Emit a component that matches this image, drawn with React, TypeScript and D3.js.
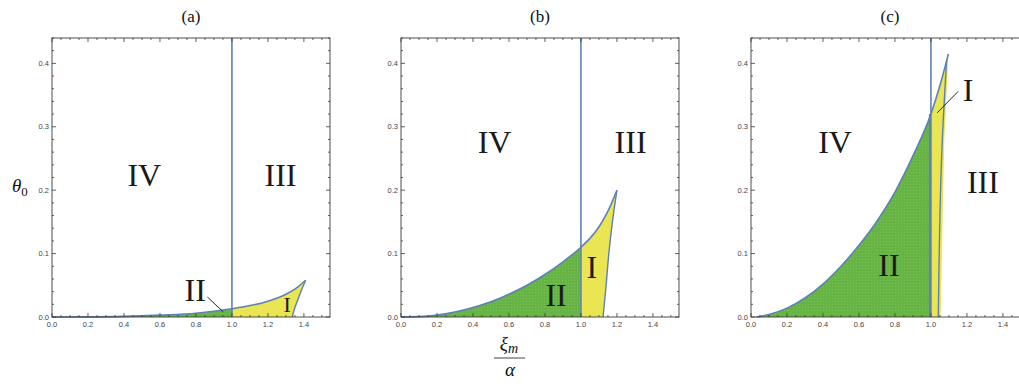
import React from "react";
import * as d3 from "d3";

// ---------- data ----------
const panelTitles = ["(a)", "(b)", "(c)"];
const xTickValues = [0, 0.2, 0.4, 0.6, 0.8, 1.0, 1.2, 1.4];
const yTickValues = [0, 0.1, 0.2, 0.3, 0.4];

// upper boundary curve (xi_m/alpha, theta_0)
const curveA_xi = [0, 0.2, 0.4, 0.6, 0.8, 0.9, 1.0, 1.1, 1.2, 1.3, 1.35, 1.41];
const curveA_th = [0, 0.0002, 0.001, 0.003, 0.006, 0.009, 0.013, 0.018, 0.025, 0.036, 0.044, 0.058];
const curveB_xi = [0, 0.1, 0.2, 0.3, 0.4, 0.5, 0.6, 0.7, 0.8, 0.9, 1.0, 1.05, 1.1, 1.15, 1.2];
const curveB_th = [0, 0.0006, 0.003, 0.008, 0.015, 0.024, 0.036, 0.05, 0.067, 0.087, 0.11, 0.124, 0.142, 0.167, 0.2];
const curveC_xi = [0.03, 0.1, 0.2, 0.3, 0.4, 0.5, 0.6, 0.7, 0.8, 0.9, 1.0, 1.05, 1.097];
const curveC_th = [0, 0.004, 0.014, 0.03, 0.052, 0.08, 0.113, 0.151, 0.197, 0.254, 0.32, 0.365, 0.415];

// right boundary of region I
const edgeA_xi = [1.335, 1.35, 1.37, 1.39, 1.41];
const edgeA_th = [0, 0.015, 0.03, 0.045, 0.058];
const edgeB_xi = [1.123, 1.14, 1.155, 1.175, 1.2];
const edgeB_th = [0, 0.05, 0.1, 0.15, 0.2];
const edgeC_xi = [1.041, 1.063, 1.087];
const edgeC_th = [0, 0.278, 0.404];
// outer limit of the yellow fill (panel c only)
const fillC_xi = [1.054, 1.074, 1.097];
const fillC_th = [0, 0.278, 0.415];

// region labels
const labelsA = [
  { text: "IV", xi: 0.513, th: 0.206, big: true },
  { text: "III", xi: 1.27, th: 0.206, big: true },
  { text: "II", xi: 0.796, th: 0.026, big: true },
  { text: "I", xi: 1.307, th: 0.0074, big: false },
];
const labelsB = [
  { text: "IV", xi: 0.52, th: 0.258, big: true },
  { text: "III", xi: 1.276, th: 0.258, big: true },
  { text: "II", xi: 0.862, th: 0.017, big: true },
  { text: "I", xi: 1.06, th: 0.061, big: true },
];
const labelsC = [
  { text: "IV", xi: 0.467, th: 0.259, big: true },
  { text: "III", xi: 1.289, th: 0.195, big: true },
  { text: "II", xi: 0.767, th: 0.064, big: true },
  { text: "I", xi: 1.206, th: 0.341, big: true },
];
// leader lines [xi1, th1, xi2, th2]
const leaderA = [0.864, 0.0315, 0.952, 0.008];
const leaderC = [1.152, 0.356, 1.035, 0.322];

// ---------- layout / style ----------
const W = 1019;
const H = 386;
const PANEL_LEFT = [52, 401, 751];
const PANEL_W = 278;
const TOP = 38;
const BOTTOM = 317;
const X_MAX = 1.545;
const Y_MAX = 0.44;
const BLUE = "#5e81b5";
const YELLOW = "#eae552";
const FRAME = "#3a3a3a";
const SERIF = "'Liberation Serif', 'Times New Roman', serif";
const SANS = "'Liberation Sans', Arial, sans-serif";

const zip = (xs: number[], ys: number[]) => xs.map((x, i) => [x, ys[i]] as [number, number]);

const panels = [
  { curve: zip(curveA_xi, curveA_th), edge: zip(edgeA_xi, edgeA_th), fillEdge: null as null | [number, number][], labels: labelsA, leader: leaderA },
  { curve: zip(curveB_xi, curveB_th), edge: zip(edgeB_xi, edgeB_th), fillEdge: null as null | [number, number][], labels: labelsB, leader: null as null | number[] },
  { curve: zip(curveC_xi, curveC_th), edge: zip(edgeC_xi, edgeC_th), fillEdge: zip(fillC_xi, fillC_th), labels: labelsC, leader: leaderC },
];

function Panel({ idx }: { idx: number }) {
  const p = panels[idx];
  const left = PANEL_LEFT[idx];
  const x = d3.scaleLinear().domain([0, X_MAX]).range([left, left + PANEL_W]);
  const y = d3.scaleLinear().domain([0, Y_MAX]).range([BOTTOM, TOP]);
  const lineX = d3
    .line<[number, number]>()
    .x((d) => x(d[0]))
    .y((d) => y(d[1]))
    .curve(d3.curveMonotoneX);
  const lineY = d3
    .line<[number, number]>()
    .x((d) => x(d[0]))
    .y((d) => y(d[1]))
    .curve(d3.curveMonotoneY);

  const greenPts = p.curve.filter((d) => d[0] <= 1.0);
  const greenPath =
    lineX(greenPts)! + `L${x(1)},${y(0)}L${x(greenPts[0][0])},${y(0)}Z`;
  const yellowTop = p.curve.filter((d) => d[0] >= 1.0);
  const edgeFill = (p.fillEdge ?? p.edge).slice().reverse();
  const yellowPath =
    `M${x(1)},${y(0)}` +
    lineX(yellowTop)!.replace(/^M/, "L") +
    "L" + edgeFill.map((d) => `${x(d[0])},${y(d[1])}`).join("L") +
    "Z";

  const xMinor = d3.range(0, X_MAX + 1e-9, 0.05);
  const yMinor = d3.range(0, Y_MAX + 1e-9, 0.02);
  const isMajorX = (v: number) => Math.abs(v / 0.2 - Math.round(v / 0.2)) < 1e-6;
  const isMajorY = (v: number) => Math.abs(v / 0.1 - Math.round(v / 0.1)) < 1e-6;
  const right = left + PANEL_W;

  return (
    <g>
      <text
        x={left + PANEL_W / 2}
        y={22}
        textAnchor="middle"
        fontFamily={SERIF}
        fontSize={17}
        fill="#111"
      >
        {panelTitles[idx]}
      </text>
      <path d={greenPath} fill="url(#dots)" />
      <path d={yellowPath} fill={YELLOW} />
      <path d={lineX(p.curve)!} fill="none" stroke={BLUE} strokeWidth={1.6} />
      <path d={lineY(p.edge)!} fill="none" stroke={BLUE} strokeWidth={1.4} />
      <line x1={x(1)} x2={x(1)} y1={TOP} y2={BOTTOM} stroke={BLUE} strokeWidth={1.6} />
      {idx === 2 && (
        <line x1={x(1) - 1.5} x2={x(1) - 1.5} y1={y(0)} y2={y(0.32)} stroke={BLUE} strokeWidth={1.2} />
      )}
      <rect x={left} y={TOP} width={PANEL_W} height={BOTTOM - TOP} fill="none" stroke={FRAME} strokeWidth={0.9} />
      {xMinor.map((v, i) => {
        const len = isMajorX(v) ? 4 : 2;
        return (
          <g key={"xt" + i}>
            <line x1={x(v)} x2={x(v)} y1={BOTTOM} y2={BOTTOM - len} stroke={FRAME} strokeWidth={0.8} />
            <line x1={x(v)} x2={x(v)} y1={TOP} y2={TOP + len} stroke={FRAME} strokeWidth={0.8} />
          </g>
        );
      })}
      {yMinor.map((v, i) => {
        const len = isMajorY(v) ? 4 : 2;
        return (
          <g key={"yt" + i}>
            <line x1={left} x2={left + len} y1={y(v)} y2={y(v)} stroke={FRAME} strokeWidth={0.8} />
            <line x1={right} x2={right - len} y1={y(v)} y2={y(v)} stroke={FRAME} strokeWidth={0.8} />
          </g>
        );
      })}
      {xTickValues.map((v) => (
        <text key={"xl" + v} x={x(v)} y={BOTTOM + 10} textAnchor="middle" fontFamily={SANS} fontSize={7.5} fill="#444">
          {v.toFixed(1)}
        </text>
      ))}
      {yTickValues.map((v) => (
        <text key={"yl" + v} x={left - 3} y={y(v) + 2.6} textAnchor="end" fontFamily={SANS} fontSize={7.5} fill="#444">
          {v.toFixed(1)}
        </text>
      ))}
      {p.labels.map((l) => (
        <text
          key={l.text}
          x={x(l.xi)}
          y={y(l.th)}
          textAnchor="middle"
          fontFamily={SERIF}
          fontSize={l.big ? 32 : 22}
          fill="#1a1a1a"
        >
          {l.text}
        </text>
      ))}
      {p.leader && (
        <line
          x1={x(p.leader[0])}
          y1={y(p.leader[1])}
          x2={x(p.leader[2])}
          y2={y(p.leader[3])}
          stroke="#111"
          strokeWidth={0.9}
        />
      )}
    </g>
  );
}

export default function App() {
  return (
    <svg
      width={W}
      height={H}
      viewBox={`0 0 ${W} ${H}`}
      style={{ position: "absolute", left: 0, top: 0, background: "#fff" }}
    >
      <defs>
        <pattern id="dots" width={3} height={3} patternUnits="userSpaceOnUse">
          <rect width={3} height={3} fill="#66b443" />
          <circle cx={1.5} cy={1.5} r={0.6} fill="#80c262" />
        </pattern>
      </defs>
      <rect width={W} height={H} fill="#fff" />
      {panels.map((_, i) => (
        <Panel key={i} idx={i} />
      ))}
      <text x={12} y={192} fontFamily={SERIF} fontStyle="italic" fontSize={19} fill="#111">
        θ
        <tspan fontStyle="normal" fontSize={13} dy={4}>0</tspan>
      </text>
      <text x={509} y={350} textAnchor="middle" fontFamily={SERIF} fontStyle="italic" fontSize={19} fill="#111">
        ξ<tspan fontSize={14} dy={3}>m</tspan>
      </text>
      <line x1={494} x2={525} y1={358} y2={358} stroke="#111" strokeWidth={0.8} />
      <text x={510} y={376} textAnchor="middle" fontFamily={SERIF} fontStyle="italic" fontSize={19} fill="#111">
        α
      </text>
    </svg>
  );
}
